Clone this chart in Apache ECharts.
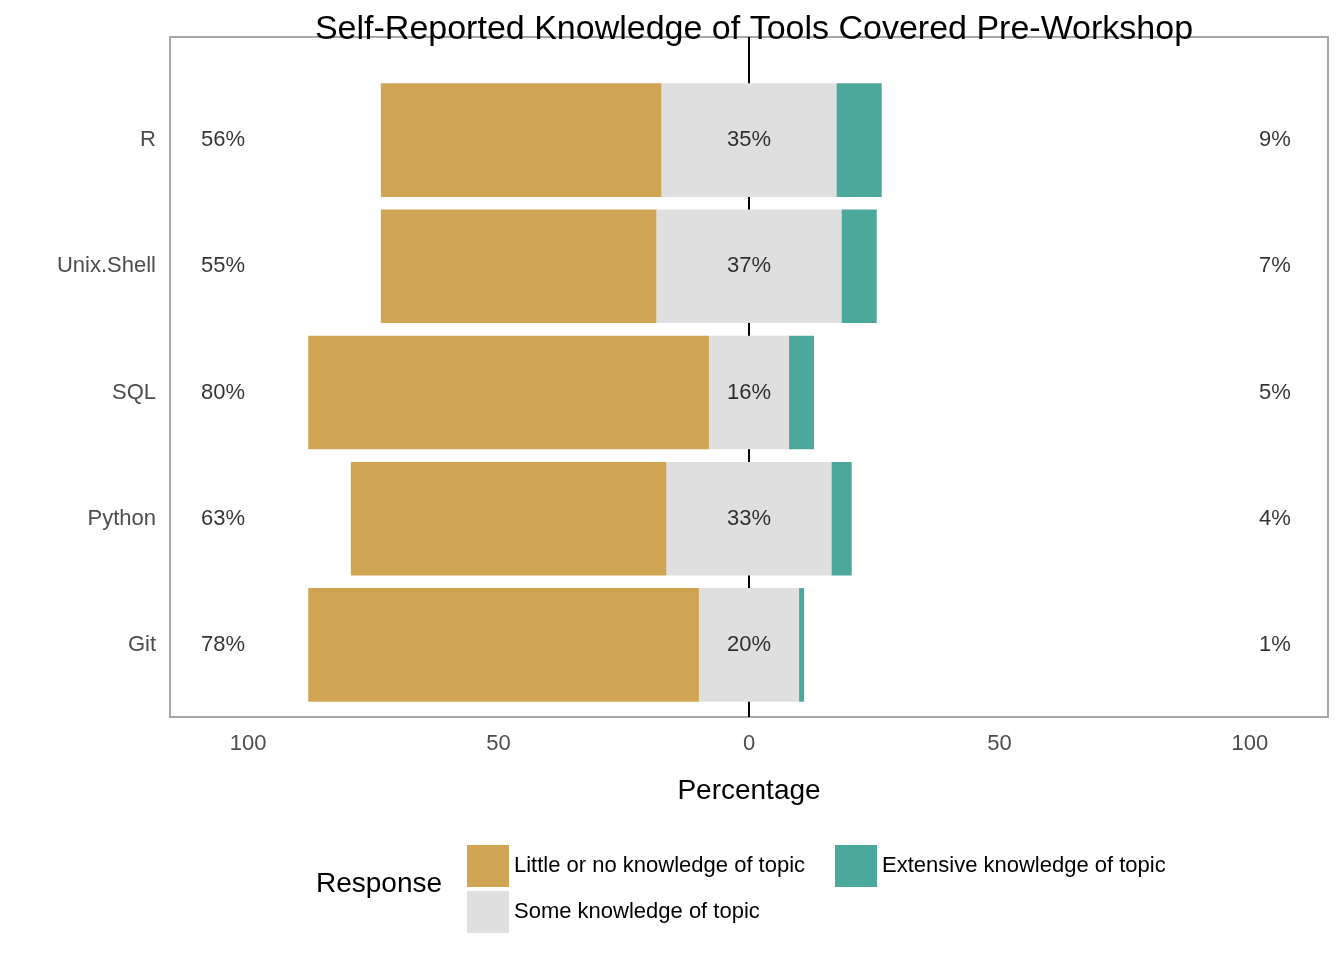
<!DOCTYPE html>
<html><head><meta charset="utf-8">
<script src="https://cdn.jsdelivr.net/npm/echarts@6/dist/echarts.min.js"></script>
<style>html,body{margin:0;background:#fff}#c{width:1344px;height:960px}</style>
</head><body><div id="c"></div>
<script>
const categories = ['R','Unix.Shell','SQL','Python','Git'];
const lowVals = [56,55,80,63,78];
const someVals = [35,37,16,33,20];
const highVals = [9,7,5,4,1];
const tickValues = [-100,-50,0,50,100];
const LOW='Little or no knowledge of topic', SOME='Some knowledge of topic', HIGH='Extensive knowledge of topic';
const font='Liberation Sans, Arial, sans-serif';
const lab = (arr,x)=>arr.map((v,i)=>({value:[x,categories[i]],label:{formatter:v+'%'}}));
const chart = echarts.init(document.getElementById('c'));
chart.setOption({
  animation:false,
  textStyle:{fontFamily:font},
  title:{text:'Self-Reported Knowledge of Tools Covered Pre-Workshop',left:749,textAlign:'center',top:8,textStyle:{fontSize:34,fontWeight:'normal',color:'#000',fontFamily:font}},
  grid:[
    {left:170,right:16,top:37,bottom:243,show:true,borderColor:'#a6a6a6',borderWidth:2,backgroundColor:'#fff'},
    {left:170,right:16,top:77,bottom:252}
  ],
  xAxis:[
    {gridIndex:0,type:'value',min:-115.6,max:115.6,name:'Percentage',nameLocation:'middle',nameGap:60,
    nameTextStyle:{fontSize:28,color:'#000'},
    axisLine:{show:false},splitLine:{show:false},axisTick:{show:false},
    axisLabel:{customValues:tickValues,fontSize:22,color:'#4d4d4d',margin:16,formatter:v=>Math.abs(v)}},
    {gridIndex:1,type:'value',min:-115.6,max:115.6,show:false,splitLine:{show:false}}
  ],
  yAxis:[
    {gridIndex:0,type:'value',min:0,max:1,show:false,splitLine:{show:false}},
    {gridIndex:1,type:'category',data:categories,inverse:true,axisLine:{show:false},axisTick:{show:false},
    axisLabel:{fontSize:22,color:'#4d4d4d',margin:14}}
  ],
  legend:[
    {left:462,top:840,orient:'vertical',icon:'rect',itemWidth:42,itemHeight:42,itemGap:4,data:[LOW,SOME],textStyle:{fontSize:22,color:'#000'}},
    {left:830,top:840,orient:'vertical',icon:'rect',itemWidth:42,itemHeight:42,itemGap:4,data:[HIGH],textStyle:{fontSize:22,color:'#000'}}
  ],
  graphic:[{type:'text',left:316,top:870,style:{text:'Response',fontSize:28,fill:'#000',fontFamily:font}}],
  series:[
    {type:'line',xAxisIndex:0,yAxisIndex:0,data:[],z:1,markLine:{z:1,silent:true,symbol:'none',label:{show:false},lineStyle:{color:'#000',width:2,type:'solid'},data:[{xAxis:0}]}},
    {name:SOME,type:'bar',xAxisIndex:1,yAxisIndex:1,stack:'t',barWidth:'90%',z:3,itemStyle:{color:'#DFDFDF'},data:someVals.map(v=>-v/2)},
    {name:SOME,type:'bar',xAxisIndex:1,yAxisIndex:1,stack:'t',z:3,itemStyle:{color:'#DFDFDF'},data:someVals.map(v=>v/2)},
    {name:LOW,type:'bar',xAxisIndex:1,yAxisIndex:1,stack:'t',z:3,itemStyle:{color:'#CFA553'},data:lowVals.map(v=>-v)},
    {name:HIGH,type:'bar',xAxisIndex:1,yAxisIndex:1,stack:'t',z:3,itemStyle:{color:'#4BA89B'},data:highVals},
    {type:'scatter',xAxisIndex:1,yAxisIndex:1,symbolSize:0,z:5,label:{show:true,position:'inside',fontSize:22,color:'#000'},
     data:[...lab(lowVals,-105),...lab(someVals,0),...lab(highVals,105)]}
  ]
});
</script></body></html>
